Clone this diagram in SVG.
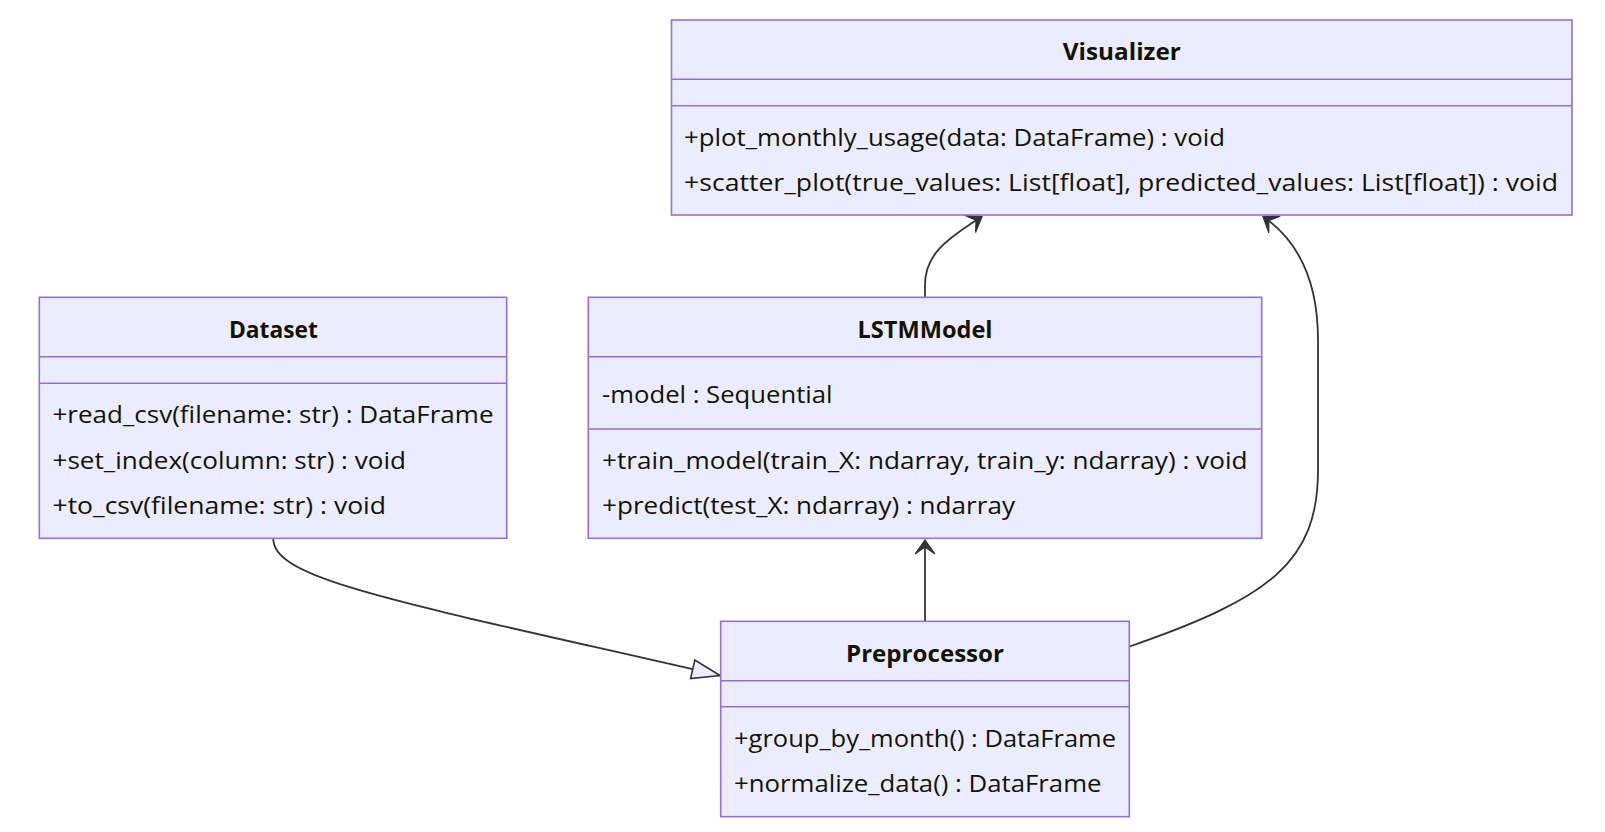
<svg xmlns="http://www.w3.org/2000/svg" width="1605" height="832" viewBox="0 0 1605 832">
<style>
.box{fill:#ECECFF;stroke:#9370DB;stroke-width:1.6}
.div{stroke:#9370DB;stroke-width:1.6}
.t{font-family:"Open Sans","Liberation Sans",sans-serif;font-size:23.5px;fill:#131300}
.ttl{font-weight:bold;text-anchor:middle}
.edge{fill:none;stroke:#333333;stroke-width:1.8}
</style>
<defs>
<marker id="dep" markerUnits="userSpaceOnUse" markerWidth="30" markerHeight="30" viewBox="-20 -15 30 30" refX="0" refY="0" orient="auto">
<path d="M0,0 L-14,-10 L-7,0 L-14,10 Z" fill="#333333" stroke="#333333" stroke-width="1.2"/>
</marker>
<marker id="ext" markerUnits="userSpaceOnUse" markerWidth="40" markerHeight="30" viewBox="-34 -15 40 30" refX="0" refY="0" orient="auto">
<path d="M0,0 L-28,-9.5 L-28,9.5 Z" fill="#ECECFF" stroke="#333333" stroke-width="1.6" stroke-linejoin="miter"/>
</marker>
</defs>
<rect width="1605" height="832" fill="#ffffff"/>
<g id="connectors">
<path class="edge" d="M273.3,539 C273.3,580 400,602 720,675.5" marker-end="url(#ext)"/>
<path class="edge" d="M925,621 L925,540" marker-end="url(#dep)"/>
<path class="edge" d="M925,297 L925,285 C925,255 945,240 982,216.5" marker-end="url(#dep)"/>
<path class="edge" d="M1129.5,646.5 C1270,598 1318,562 1318,470 L1318,340 C1318,282 1300,242 1263,216.5" marker-end="url(#dep)"/>
</g>
<g id="Visualizer">
<rect class="box" x="671.5" y="20" width="900.5" height="195"/>
<line class="div" x1="671.5" y1="79.3" x2="1572" y2="79.3"/>
<line class="div" x1="671.5" y1="105.7" x2="1572" y2="105.7"/>
<text class="t ttl" x="1121.8" y="60.4" textLength="118" lengthAdjust="spacingAndGlyphs">Visualizer</text>
<text class="t" x="684" y="145.7" textLength="541" lengthAdjust="spacingAndGlyphs">+plot_monthly_usage(data: DataFrame) : void</text>
<text class="t" x="684" y="191" textLength="874" lengthAdjust="spacingAndGlyphs">+scatter_plot(true_values: List[float], predicted_values: List[float]) : void</text>
</g>
<g id="Dataset">
<rect class="box" x="39.3" y="297.3" width="467.4" height="241"/>
<line class="div" x1="39.3" y1="356.7" x2="506.7" y2="356.7"/>
<line class="div" x1="39.3" y1="383.3" x2="506.7" y2="383.3"/>
<text class="t ttl" x="273.4" y="337.7" textLength="89" lengthAdjust="spacingAndGlyphs">Dataset</text>
<text class="t" x="52.5" y="423.3" textLength="441" lengthAdjust="spacingAndGlyphs">+read_csv(filename: str) : DataFrame</text>
<text class="t" x="52.5" y="468.6" textLength="353.5" lengthAdjust="spacingAndGlyphs">+set_index(column: str) : void</text>
<text class="t" x="52.5" y="514" textLength="333.5" lengthAdjust="spacingAndGlyphs">+to_csv(filename: str) : void</text>
</g>
<g id="LSTMModel">
<rect class="box" x="588.3" y="297.3" width="673.4" height="241"/>
<line class="div" x1="588.3" y1="356.7" x2="1261.7" y2="356.7"/>
<line class="div" x1="588.3" y1="429" x2="1261.7" y2="429"/>
<text class="t ttl" x="925" y="337.7" textLength="135" lengthAdjust="spacingAndGlyphs">LSTMModel</text>
<text class="t" x="602" y="403" textLength="230.5" lengthAdjust="spacingAndGlyphs">-model : Sequential</text>
<text class="t" x="602" y="468.6" textLength="645.5" lengthAdjust="spacingAndGlyphs">+train_model(train_X: ndarray, train_y: ndarray) : void</text>
<text class="t" x="602" y="514" textLength="413" lengthAdjust="spacingAndGlyphs">+predict(test_X: ndarray) : ndarray</text>
</g>
<g id="Preprocessor">
<rect class="box" x="720.7" y="621.3" width="408.6" height="195.4"/>
<line class="div" x1="720.7" y1="680.7" x2="1129.3" y2="680.7"/>
<line class="div" x1="720.7" y1="706.7" x2="1129.3" y2="706.7"/>
<text class="t ttl" x="925" y="661.7" textLength="158" lengthAdjust="spacingAndGlyphs">Preprocessor</text>
<text class="t" x="734" y="746.7" textLength="382" lengthAdjust="spacingAndGlyphs">+group_by_month() : DataFrame</text>
<text class="t" x="734" y="792" textLength="367.5" lengthAdjust="spacingAndGlyphs">+normalize_data() : DataFrame</text>
</g>
</svg>
